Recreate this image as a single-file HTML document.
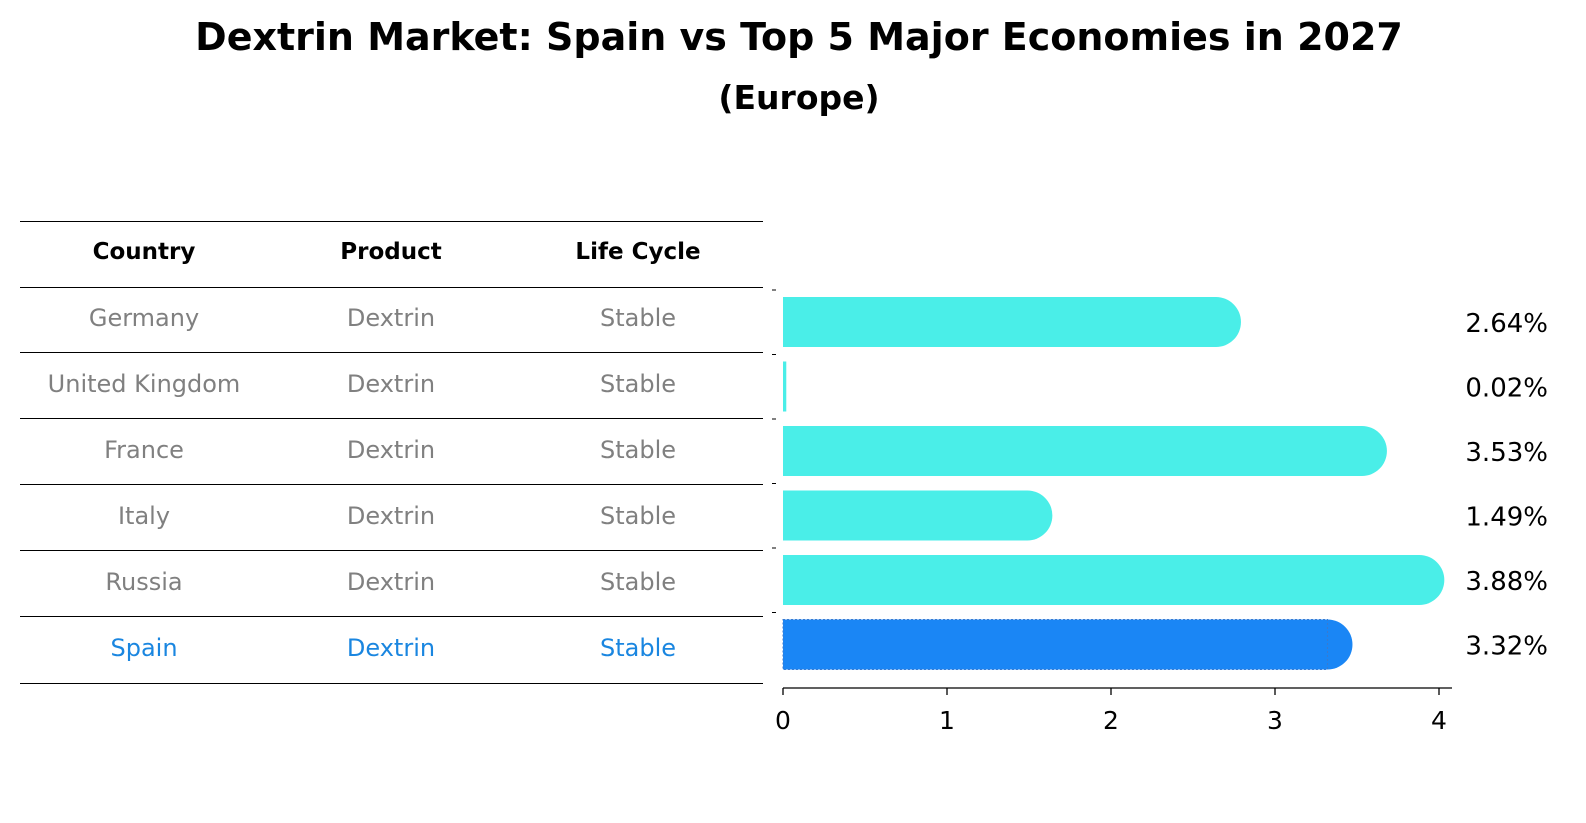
<!DOCTYPE html>
<html><head><meta charset="utf-8"><style>
body{margin:0;background:#fff;font-family:"DejaVu Sans","Liberation Sans",sans-serif}
#wrap{position:relative;width:1586px;height:823px;overflow:hidden}
.t{position:absolute;text-align:center;white-space:nowrap}
.hl{position:absolute;left:20px;width:743px;height:1px;background:#000}
.cell{position:absolute;width:240px;text-align:center;font-size:24px;line-height:28px;color:#808080;font-family:"DejaVu Sans",sans-serif;white-space:nowrap}
</style></head><body>
<div id="wrap">
<div class="t" style="left:0;width:1598px;top:15px;line-height:44px;font-size:38px;font-weight:bold;font-family:'DejaVu Sans',sans-serif">Dextrin Market: Spain vs Top 5 Major Economies in 2027</div>
<div class="t" style="left:0;width:1598px;top:79px;line-height:38px;font-size:33px;font-weight:bold;font-family:'DejaVu Sans',sans-serif">(Europe)</div>
<div id="table"></div>
<svg id="svg" width="1586" height="823" style="position:absolute;left:0;top:0"></svg>
</div>
<script>
const countries=["Germany","United Kingdom","France","Italy","Russia","Spain"];
const products=["Dextrin","Dextrin","Dextrin","Dextrin","Dextrin","Dextrin"];
const lifecycle=["Stable","Stable","Stable","Stable","Stable","Stable"];
const values=[2.64,0.02,3.53,1.49,3.88,3.32];
const tickLabels=[0,1,2,3,4];

const tbl=document.getElementById('table');
const lineYs=[221,287,352,418,484,550,616,683];
lineYs.forEach((y,i)=>{const d=document.createElement('div');d.className='hl';d.style.top=y+'px';


tbl.appendChild(d);});
const colX=[144,391,638];
["Country","Product","Life Cycle"].forEach((h,j)=>{const d=document.createElement('div');d.className='cell';
d.style.left=(colX[j]-120)+'px';d.style.top='238px';d.style.color='#000';d.style.fontWeight='bold';d.style.fontSize='23px';d.textContent=h;


tbl.appendChild(d);});
countries.forEach((c,i)=>{[c,products[i],lifecycle[i]].forEach((v,j)=>{const d=document.createElement('div');d.className='cell';
d.style.left=(colX[j]-120)+'px';d.style.top=(304+i*66)+'px';if(i==5)d.style.color='#1a86e0';d.textContent=v;


tbl.appendChild(d);});});

const svg=document.getElementById('svg');const NS='http://www.w3.org/2000/svg';
function el(t,a){const e=document.createElementNS(NS,t);for(const k in a)e.setAttribute(k,a[k]);svg.appendChild(e);return e;}
const x0=783,pxPer=164;
const xs=v=>x0+v*pxPer;
const ys=i=>322+i*64.5;
const h=50;
values.forEach((v,i)=>{
 const col=i==5?'#1a86f5':'#4aeee8';
 const w=Math.max(xs(v)-x0,3);
 const r=Math.min(h/2,w);
 const g=el('g',{});
 
 
 const rect=el('rect',{x:x0,y:ys(i)-h/2,width:w,height:h,fill:col});
 g.appendChild(rect);
 if(w>10){const c=el('circle',{cx:x0+w,cy:ys(i),r:r,fill:col});g.appendChild(c);}
 if(i==5){const b=el('rect',{x:x0,y:ys(i)-h/2,width:w,height:h,fill:'none',stroke:'#3a7ad0','stroke-width':1,'stroke-dasharray':'2,2'});g.appendChild(b);}
 const t=el('text',{x:1548,y:ys(i)+10,'text-anchor':'end','font-size':26,'font-family':'DejaVu Sans, sans-serif',fill:'#000'});
 t.textContent=v.toFixed(2)+'%';
 
 
 el('line',{x1:772,x2:776,y1:ys(i)-32,y2:ys(i)-32,stroke:'#000','stroke-width':1});
});
const ax=el('line',{x1:x0,x2:1452,y1:688,y2:688,stroke:'#000','stroke-width':1.3});


tickLabels.forEach(t=>{
 el('line',{x1:xs(t),x2:xs(t),y1:688,y2:695,stroke:'#000','stroke-width':1.3});
 const tx=el('text',{x:xs(t),y:729,'text-anchor':'middle','font-size':25,'font-family':'DejaVu Sans, sans-serif'});
 tx.textContent=t;
 
 
});
</script>
</body></html>
